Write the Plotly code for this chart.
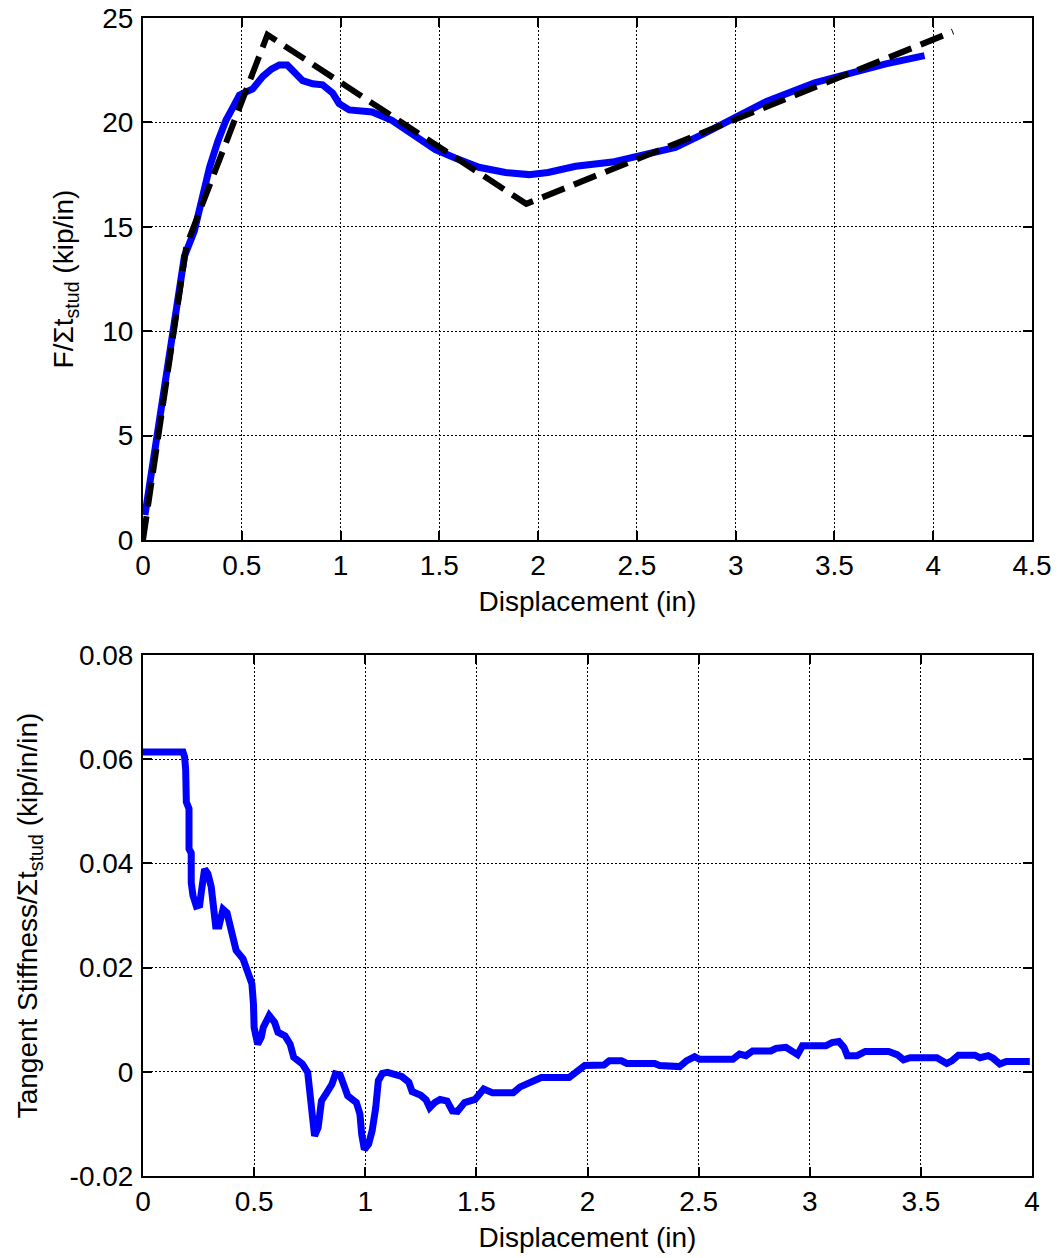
import plotly.graph_objects as go

# ---- Force per unit stud thickness vs displacement ----
disp_test = [0.01, 0.05, 0.10, 0.15, 0.18, 0.21, 0.26, 0.295, 0.337, 0.379, 0.42, 0.46,
             0.488, 0.52, 0.555, 0.606, 0.65, 0.69, 0.73, 0.766, 0.808, 0.859, 0.909,
             0.96, 0.993, 1.044, 1.16, 1.26, 1.364, 1.48, 1.58, 1.70, 1.835, 1.953,
             2.05, 2.146, 2.19, 2.376, 2.553, 2.695, 2.837, 3.0, 3.156, 3.40, 3.58,
             3.76, 3.956]
force_test = [1.2, 3.7, 6.9, 10.1, 12.0, 13.6, 14.8, 16.2, 17.85, 19.1, 20.1, 20.8,
              21.3, 21.45, 21.6, 22.2, 22.55, 22.75, 22.75, 22.4, 22.0, 21.85, 21.8,
              21.4, 20.9, 20.6, 20.5, 20.1, 19.45, 18.7, 18.3, 17.85, 17.6, 17.5,
              17.6, 17.85, 17.9, 18.1, 18.5, 18.8, 19.45, 20.2, 21.0, 21.9, 22.35,
              22.8, 23.2]

# multilinear backbone fit
disp_fit = [0.0, 0.22, 0.63, 1.94, 4.10]
force_fit = [0.0, 14.1, 24.2, 16.1, 24.35]

# ---- Tangent stiffness per unit stud thickness ----
disp_k = [0, 0.18, 0.187, 0.192, 0.195, 0.207, 0.207, 0.217, 0.217, 0.225,
          0.24, 0.255, 0.262, 0.277, 0.292, 0.307, 0.315, 0.327, 0.342, 0.36,
          0.378, 0.39, 0.403, 0.419, 0.45, 0.474, 0.49, 0.497, 0.5, 0.516,
          0.532, 0.541, 0.568, 0.592, 0.607, 0.639, 0.662, 0.678, 0.717, 0.741,
          0.752, 0.761, 0.772, 0.788, 0.803, 0.827, 0.85, 0.866, 0.887, 0.905,
          0.921, 0.96, 0.976, 0.984, 0.996, 1.015, 1.031, 1.047, 1.059, 1.078,
          1.1, 1.164, 1.196, 1.211, 1.25, 1.274, 1.29, 1.313, 1.337, 1.368,
          1.392, 1.415, 1.447, 1.494, 1.533, 1.572, 1.666, 1.697, 1.729, 1.792,
          1.917, 1.957, 1.988, 2.074, 2.098, 2.153, 2.177, 2.302, 2.325, 2.415,
          2.445, 2.482, 2.504, 2.654, 2.684, 2.713, 2.743, 2.825, 2.848, 2.893,
          2.922, 2.945, 2.967, 3.072, 3.1, 3.131, 3.154, 3.169, 3.213, 3.25,
          3.355, 3.393, 3.422, 3.452, 3.572, 3.594, 3.616, 3.639, 3.669, 3.743,
          3.766, 3.803, 3.825, 3.855, 3.885, 3.99]
stiff_k = [0.0614, 0.0614, 0.0605, 0.058, 0.0518, 0.0505, 0.0428, 0.042, 0.0363, 0.0338,
           0.0318, 0.032, 0.0344, 0.0389, 0.038, 0.0355, 0.0325, 0.028, 0.028, 0.0312,
           0.0305, 0.0286, 0.0265, 0.0233, 0.0217, 0.0191, 0.0169, 0.013, 0.0085, 0.0053,
           0.0066, 0.0085, 0.0108, 0.0095, 0.0076, 0.0069, 0.0053, 0.0028, 0.0015, -0.0001,
           -0.0043, -0.0107, -0.0123, -0.0107, -0.0056, -0.004, -0.0024, -0.0004, -0.0006, -0.0027,
           -0.0046, -0.0059, -0.0081, -0.012, -0.0149, -0.0139, -0.0113, -0.0069, -0.0017, -0.0003,
           -0.0001, -0.0009, -0.002, -0.0038, -0.0045, -0.0054, -0.0069, -0.0059, -0.0053, -0.0056,
           -0.0075, -0.0076, -0.0059, -0.0053, -0.0033, -0.004, -0.004, -0.0029, -0.0024, -0.0011,
           -0.0011, 0.0002, 0.0012, 0.0013, 0.0021, 0.0021, 0.0016, 0.0016, 0.0012, 0.001,
           0.0021, 0.0029, 0.0024, 0.0024, 0.0034, 0.0031, 0.004, 0.004, 0.0045, 0.0047,
           0.0037, 0.0033, 0.005, 0.005, 0.0056, 0.0058, 0.0047, 0.0031, 0.0031, 0.0039,
           0.0039, 0.0033, 0.0023, 0.0027, 0.0027, 0.0021, 0.0016, 0.0021, 0.0032, 0.0032,
           0.0027, 0.0031, 0.0026, 0.0015, 0.002, 0.002]

x1_ticks = [0, 0.5, 1, 1.5, 2, 2.5, 3, 3.5, 4, 4.5]
x1_labels = ["0", "0.5", "1", "1.5", "2", "2.5", "3", "3.5", "4", "4.5"]
y1_ticks = [0, 5, 10, 15, 20, 25]
x2_ticks = [0, 0.5, 1, 1.5, 2, 2.5, 3, 3.5, 4]
x2_labels = ["0", "0.5", "1", "1.5", "2", "2.5", "3", "3.5", "4"]
y2_ticks = [-0.02, 0, 0.02, 0.04, 0.06, 0.08]
y2_labels = ["-0.02", "0", "0.02", "0.04", "0.06", "0.08"]

FONT = "Liberation Sans, Arial, sans-serif"
BLUE = "#0000FF"

fig = go.Figure()
fig.add_trace(go.Scatter(x=disp_test, y=force_test, mode="lines",
                         line=dict(color=BLUE, width=7), xaxis="x", yaxis="y"))
fig.add_trace(go.Scatter(x=disp_fit, y=force_fit, mode="lines",
                         line=dict(color="black", width=6, dash="24px,10px"),
                         xaxis="x", yaxis="y"))
fig.add_trace(go.Scatter(x=disp_k, y=stiff_k, mode="lines",
                         line=dict(color=BLUE, width=7), xaxis="x2", yaxis="y2"))

axis_common = dict(
    showline=True, linecolor="black", linewidth=2, mirror="allticks",
    ticks="inside", ticklen=9, tickcolor="black", tickwidth=1.5,
    showgrid=True, gridcolor="black", gridwidth=1, griddash="2px,2px",
    zeroline=False, automargin=False,
    tickfont=dict(family=FONT, size=28, color="black"),
)

top_dom = [0.5492, 1.0]
bot_dom = [0.0, 0.4499]

fig.update_layout(
    width=1059, height=1258,
    margin=dict(l=143, r=27, t=18, b=82),
    paper_bgcolor="white", plot_bgcolor="white",
    showlegend=False,
    font=dict(family=FONT, size=28, color="black"),
    xaxis=dict(axis_common, range=[0, 4.5], domain=[0, 1], anchor="y",
               tickvals=x1_ticks, ticktext=x1_labels, ticklabelstandoff=-1,
               title=dict(text="Displacement (in)", font=dict(size=28), standoff=12)),
    yaxis=dict(axis_common, range=[0, 25], domain=top_dom, anchor="x",
               tickvals=y1_ticks, ticklabelstandoff=2,
               title=dict(text="F/\u03a3t<sub>stud</sub> (kip/in)", font=dict(size=28), standoff=20)),
    xaxis2=dict(axis_common, range=[0, 4], domain=[0, 1], anchor="y2",
                tickvals=x2_ticks, ticktext=x2_labels, ticklabelstandoff=-1,
                title=dict(text="Displacement (in)", font=dict(size=28), standoff=12)),
    yaxis2=dict(axis_common, range=[-0.02, 0.08], domain=bot_dom, anchor="x2",
                tickvals=y2_ticks, ticktext=y2_labels, ticklabelstandoff=2,
                title=dict(text="Tangent Stiffness/\u03a3t<sub>stud</sub> (kip/in/in)",
                           font=dict(size=28), standoff=24)),
)

fig.write_html("out.html")
